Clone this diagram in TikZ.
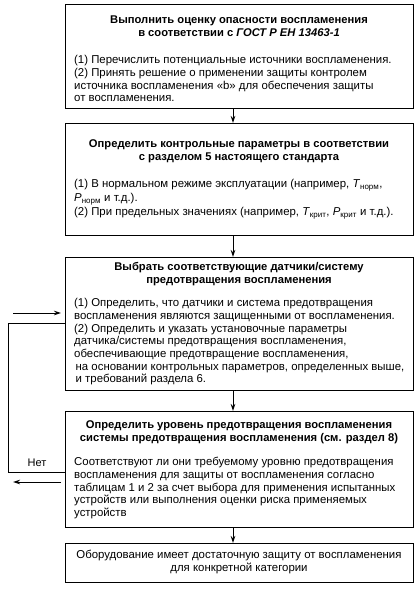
\documentclass[tikz,border=0pt]{standalone}
\usepackage{fontspec}
\setmainfont{Liberation Sans}
\usetikzlibrary{arrows.meta,calc}
\begin{document}
\begin{tikzpicture}[x=1pt,y=-1pt,
  box/.style={draw,line width=1.4pt,rectangle,anchor=north west,inner sep=0pt},
  head/.style={anchor=north,align=center,inner sep=0pt,font=\fontsize{11.2}{12.7}\selectfont\bfseries},
  body/.style={anchor=north west,align=left,inner sep=0pt,font=\fontsize{11.4}{12.7}\selectfont},
  conn/.style={line width=1pt},
  arr/.style={line width=1pt,-{Stealth[length=7pt,width=4.5pt]}}]
\useasboundingbox (0,0) rectangle (418,591);
% boxes
\node[box,minimum width=348pt,minimum height=104pt] (b1) at (65,4) {};
\node[box,minimum width=348pt,minimum height=112pt] (b2) at (65,123) {};
\node[box,minimum width=348pt,minimum height=133pt] (b3) at (65,257) {};
\node[box,minimum width=348pt,minimum height=116pt] (b4) at (65,411) {};
\node[box,minimum width=348pt,minimum height=39pt] (b5) at (65,543) {};
% box 1
\node[head] (h1) at (239,14.6) {\strut Выполнить оценку опасности воспламенения\\в соответствии с \textit{ГОСТ Р ЕН 13463-1}};
\node[body] (t1) at (74,54.6) {\strut(1) Перечислить потенциальные источники воспламенения.\\(2) Принять решение о применении защиты контролем\\источника воспламенения «b» для обеспечения защиты\\от воспламенения.};
% box 2
\node[head] (h2) at (239,138.6) {\strut Определить контрольные параметры в соответствии\\с разделом 5 настоящего стандарта};
\node[body,font=\fontsize{11.4}{14}\selectfont] (t2) at (74,177.5) {\strut(1) В нормальном режиме эксплуатации (например, \textit{T}\textsubscript{норм},\\\textit{P}\textsubscript{норм} и т.д.).\\(2) При предельных значениях (например, \textit{T}\textsubscript{крит}, \textit{P}\textsubscript{крит} и т.д.).};
% box 3
\node[head] (h3) at (239,261.6) {\strut Выбрать соответствующие датчики/систему\\предотвращения воспламенения};
\node[body] (t3) at (74,297.6) {\strut(1) Определить, что датчики и система предотвращения\\воспламенения являются защищенными от воспламенения.\\(2) Определить и указать установочные параметры\\датчика/системы предотвращения воспламенения,\\обеспечивающие предотвращение воспламенения,\\\hspace*{1.5pt}на основании контрольных параметров, определенных выше,\\\hspace*{1.5pt}и требований раздела 6.};
% box 4
\node[head] (h4) at (239,419.6) {\strut Определить уровень предотвращения воспламенения\\системы предотвращения воспламенения (см. раздел 8)};
\node[body] (t4) at (74,456.6) {\strut Соответствуют ли они требуемому уровню предотвращения\\воспламенения для защиты от воспламенения согласно\\таблицам 1 и 2 за счет выбора для применения испытанных\\устройств или выполнения оценки риска применяемых\\устройств};
% box 5
\node[head,font=\fontsize{11.4}{12.7}\selectfont] (t5) at (239,549.6) {\strut Оборудование имеет достаточную защиту от воспламенения\\для конкретной категории};
% vertical arrows
\coordinate (ax) at (233,0);
\draw[arr] (b1.south -| ax) -- (b2.north -| ax);
\draw[arr] (b2.south -| ax) -- (b3.north -| ax);
\draw[arr] (b3.south -| ax) -- (b4.north -| ax);
\draw[arr] (b4.south -| ax) -- (b5.north -| ax);
% loop
\coordinate (l1) at (8,472);
\coordinate (l2) at (8,323);
\draw[conn] (b4.west |- l1) -- (l1) -- (l2) -- (b3.west |- l2);
\coordinate (a1) at (13,313);
\draw[arr,shorten >=4pt] (a1) -- (a1 -| b3.west);
\coordinate (a2) at (13,482);
\draw[arr,shorten <=4pt] (a2 -| b4.west) -- (a2);
\node[font=\fontsize{11}{12}\selectfont,inner sep=0pt] (no) at (37,463) {Нет};
\end{tikzpicture}
\end{document}
